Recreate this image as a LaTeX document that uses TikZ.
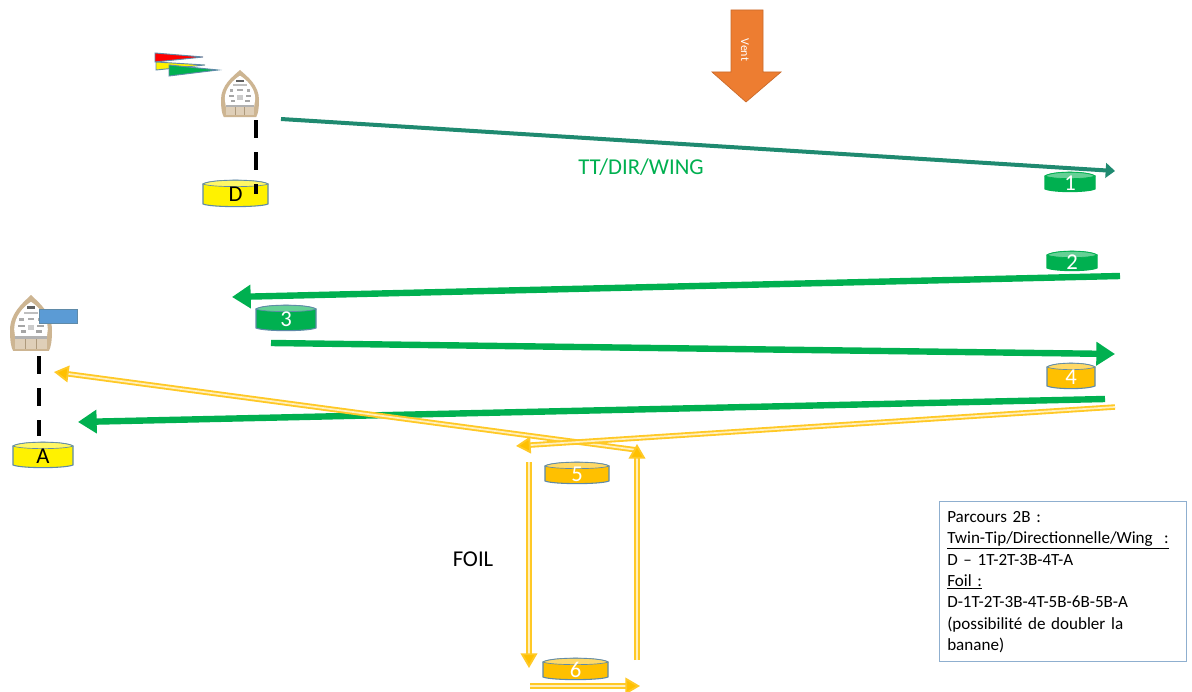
\documentclass[tikz,border=0pt]{standalone}
\usepackage{fontspec}
\setmainfont{Carlito}
\usetikzlibrary{arrows.meta}
\definecolor{mgreen}{HTML}{00B050}
\definecolor{mteal}{HTML}{1F8A70}
\definecolor{morange}{HTML}{FFC000}
\definecolor{mwind}{HTML}{ED7D31}
\definecolor{medge}{HTML}{5F8AA8}
\definecolor{mblue}{HTML}{5B9BD5}
\definecolor{mtan}{HTML}{CDB592}
\definecolor{mbox}{HTML}{8FAFCF}
\tikzset{
  x=0.75pt,y=-0.75pt,
  greenarrow/.style={draw=mgreen,line width=4.8pt,-{Triangle[length=14pt,width=17pt]}},
  tealarrow/.style={draw=mteal,line width=3pt,-{Triangle[length=7pt,width=11pt]}},
  orangearrow/.style={draw=morange!85!white,line width=1.4pt,double=white!75!morange,double distance=1.3pt,-{Triangle[length=11pt,width=12.5pt,fill=morange]}},
  dashline/.style={draw=black,line width=3.2pt,dash pattern=on 13.5pt off 10.5pt},
  flagshape/.style={draw=medge,line width=0.7pt},
  buoylabel/.style={inner sep=0pt,font=\fontsize{17}{17}\selectfont},
  lbl/.style={inner sep=0pt,font=\fontsize{17}{18}\selectfont},
}
% name, x-left, y-top, x-right, y-bottom, fill, edge, text colour, label
\newcommand{\buoy}[9]{%
  \path[draw=#7,line width=0.8pt,fill=#6]
    (#2,#3+4) -- (#2,#5-3) .. controls (#2+8,#5+0.5) and (#4-8,#5+0.5) .. (#4,#5-3) -- (#4,#3+4)
    .. controls (#4-8,#3-1) and (#2+8,#3-1) .. (#2,#3+4) -- cycle;
  \path[draw=#7,line width=0.5pt,fill=#6!60!white]
    (#2,#3+4) .. controls (#2+8,#3-1) and (#4-8,#3-1) .. (#4,#3+4)
    .. controls (#4-8,#3+7.5) and (#2+8,#3+7.5) .. (#2,#3+4) -- cycle;
  \node[buoylabel,text=#8] (#1) at ({(#2+#4)/2},{(#3+#5)/2+1}) {#9};
}
% boat: centre x, top y, half width, height
\newcommand{\boat}[4]{%
  \begin{scope}[shift={(#1,#2)},xscale=#3/20,yscale=#4/50]
    \fill[mtan] (0,0) .. controls (8,7) and (20,16) .. (20,31)
      .. controls (20,40) and (19,46) .. (17,49) -- (-17,49)
      .. controls (-19,46) and (-20,40) .. (-20,31)
      .. controls (-20,16) and (-8,7) .. (0,0) -- cycle;
    \fill[white] (0,6) .. controls (7,10) and (16,19) .. (16,30)
      -- (15,38) -- (-15,38) -- (-16,30)
      .. controls (-16,19) and (-7,10) .. (0,6) -- cycle;
    \fill[gray!75!black] (-4,10) rectangle (4,12.5);
    \fill[gray!50] (-7,15) rectangle (7,17);
    \fill[gray!65] (-11,20) rectangle (-7,22.5);
    \fill[gray!65] (7,20) rectangle (11,22.5);
    \fill[gray!65] (-3,20) rectangle (3,22);
    \fill[gray!70] (-12,26) rectangle (-6,28);
    \fill[gray!70] (6,26) rectangle (12,28);
    \fill[gray!40] (-3,26) rectangle (3,31);
    \fill[gray!70] (-10,31) rectangle (-5,33);
    \fill[gray!70] (5,31) rectangle (10,33);
    \fill[gray!60] (-15,36) rectangle (15,38.5);
    \fill[mtan!65!white] (-15,39) rectangle (15,47);
    \draw[mtan!85!black,line width=0.4pt] (-5,39) -- (-5,47) (5,39) -- (5,47);
  \end{scope}
}
\begin{document}
\begin{tikzpicture}
\useasboundingbox (0,0) rectangle (1192,692);
\fill[white] (0,0) rectangle (1192,692);

% boats
\boat{240}{70}{19}{48}
\boat{31}{295}{21}{57}
\fill[mblue,draw=medge,line width=0.5pt] (39,309) rectangle (77,323);

% flags
\path[flagshape,fill=red] (155,53) -- (203,57) -- (155,62) -- cycle;
\path[flagshape,fill=yellow] (156,62) -- (205,65) -- (156,70) -- cycle;
\path[flagshape,fill=mgreen] (169,65) -- (218,70) -- (169,76) -- cycle;

% wind arrow
\path[draw=mwind!85!black,line width=0.5pt,fill=mwind]
  (731,10) -- (763,10) -- (763,72) -- (781,72) -- (746,102) -- (712,72) -- (731,72) -- cycle;
\node[text=white,inner sep=0pt,rotate=-90,font=\fontsize{9}{9}\selectfont] (venttext) at (745,50) {Vent};

% buoys
\buoy{bD}{203}{180}{268}{207}{yellow}{medge}{black}{D}
\buoy{bA}{13}{442}{73}{468}{yellow}{medge}{black}{A}
\buoy{b1}{1045}{172}{1095}{192}{mgreen}{mgreen}{white}{1}
\buoy{b2}{1047}{251}{1097}{271}{mgreen}{mgreen}{white}{2}
\buoy{b3}{256}{305}{316}{331}{mgreen}{medge}{white}{3}
\buoy{b4}{1047}{363}{1095}{389}{morange}{medge}{white}{4}
\buoy{b5}{545}{462}{609}{484}{morange}{medge}{white}{5}
\buoy{b6}{543}{658}{608}{680}{morange}{medge}{white}{6}

% connector end points
\coordinate (d0) at (256,120);
\coordinate (d1) at (256,194);
\coordinate (e0) at (39,356);
\coordinate (e1) at (39,436);
\coordinate (g1s) at (281,119);
\coordinate (g1e) at (1115,171);
\coordinate (g2s) at (1120,276);
\coordinate (g2e) at (232,297);
\coordinate (g3s) at (271,343);
\coordinate (g3e) at (1115,354);
\coordinate (g4s) at (1105,399);
\coordinate (g4e) at (78,422);
\coordinate (o1s) at (1115,407);
\coordinate (o1e) at (516,446);
\coordinate (o2s) at (637,450);
\coordinate (o2e) at (54,372);
\coordinate (o3s) at (529,462);
\coordinate (o3e) at (529,668);
\coordinate (o4s) at (637,660);
\coordinate (o4e) at (637,444);
\coordinate (o5s) at (530,686);
\coordinate (o5e) at (640,686);

% dashed links
\draw[dashline] (d0) -- (d1);
\draw[dashline] (e0) -- (e1);

% arrows
\draw[tealarrow] (g1s) -- (g1e);
\draw[greenarrow] (g2s) -- (g2e);
\draw[greenarrow] (g3s) -- (g3e);
\draw[greenarrow] (g4s) -- (g4e);
\draw[orangearrow] (o2s) -- (o2e);
\draw[orangearrow] (o1s) -- (o1e);
\draw[orangearrow] (o3s) -- (o3e);
\draw[orangearrow] (o4s) -- (o4e);
\draw[orangearrow] (o5s) -- (o5e);

% labels
\node[lbl,text=mgreen] (tt) at (641,167) {TT/DIR/WING};
\node[lbl,text=black] (foil) at (473,559) {FOIL};

% text box
\node[draw=mbox,line width=0.8pt,fill=white,anchor=north west,inner sep=0pt,
  minimum width=185.25pt,minimum height=120pt] (box) at (939,501) {};
\node[anchor=north west,inner sep=0pt,align=left,text width=180pt,
  font=\fontsize{12.8}{16}\selectfont] (boxtext) at (947,511) {%
  Parcours 2B :\\
  \underline{Twin-Tip/Directionnelle/Wing\ \ :}\\
  D – 1T-2T-3B-4T-A\\
  \underline{Foil :}\\
  D-1T-2T-3B-4T-5B-6B-5B-A\\
  (possibilité de doubler la\\
  banane)};
\end{tikzpicture}
\end{document}
